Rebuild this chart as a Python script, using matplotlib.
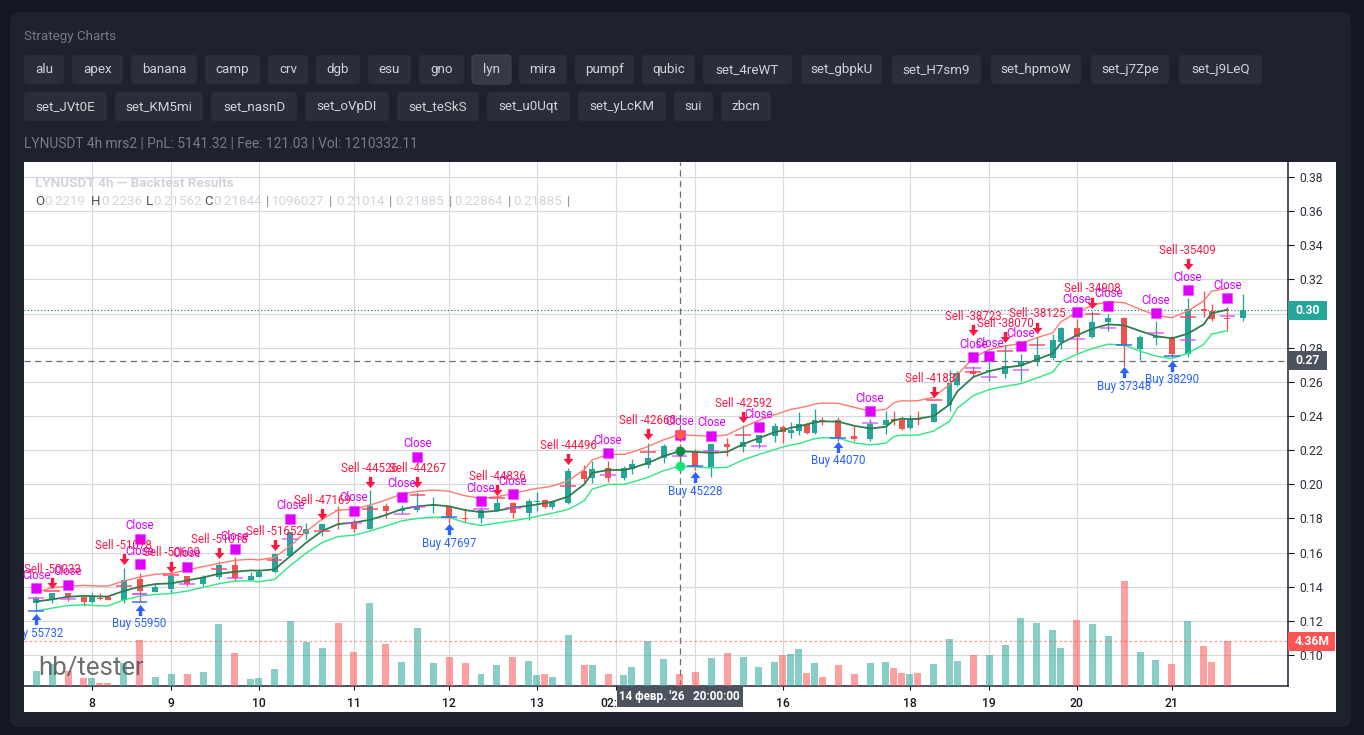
import matplotlib
matplotlib.use('Agg')
import matplotlib.pyplot as plt
from matplotlib.patches import FancyBboxPatch, Rectangle
from matplotlib.path import Path
from matplotlib.transforms import blended_transform_factory

plt.rcParams['font.family'] = ['Roboto', 'DejaVu Sans']

# candles: slot number on the time scale, then OHLC and volume (millions)
slots = [0, 2, 4, 6, 7, 8, 9, 11, 13, 15, 17, 19, 21, 23, 25, 27, 28, 30, 32, 34, 36, 38,
         40, 42, 44, 46, 48, 50, 52, 54, 56, 58, 60, 62, 63, 64, 65, 67, 69, 70, 72, 74, 75, 77, 79,
         81, 83, 85, 87, 89, 91, 93, 94, 95, 96, 97, 98, 99, 101, 103, 105, 107, 108, 109, 110, 111,
         113, 115, 116, 118, 120, 122, 124, 126, 128, 129, 131, 133, 135, 137, 139, 141, 143, 145, 147, 148, 150, 152]
opens = [.1306, .1320, .1361, .1341, .1308, .1335, .1339, .1320, .1443, .1371, .1386, .1461, .1416, .1459, .1525, .1441, .1457, .1486, .1578, .1710, .1733, .1849,
         .1773, .1737, .1873, .1841, .1849, .1873, .1874, .1802, .1802, .1841, .1890, .1831, .1896, .1908, .1867, .1890, .2078, .2035, .2094, .2037, .2092, .2116, .2153,
         .2219, .2190, .2102, .2237, .2220, .2243, .2286, .2335, .2302, .2310, .2353, .2300, .2374, .2376, .2284, .2267, .2349, .2380, .2378, .2329, .2384,
         .2365, .2467, .2582, .2663, .2661, .2649, .2692, .2716, .2741, .2835, .2914, .2865, .2949, .2972, .2790, .2859, .2863, .2765, .3025, .3017, .2972, .2972]
highs = [.1345, .1363, .1361, .1341, .1365, .1363, .1339, .1508, .1482, .1414, .1478, .1461, .1467, .1549, .1572, .1486, .1502, .1596, .1718, .1776, .1770, .1874,
         .1796, .1967, .1890, .1878, .1957, .1925, .1878, .1859, .1865, .1920, .1894, .1914, .1953, .1914, .1904, .2096, .2114, .2137, .2137, .2110, .2149, .2243, .2237,
         .2236, .2208, .2237, .2271, .2345, .2290, .2361, .2349, .2365, .2423, .2357, .2443, .2394, .2392, .2339, .2384, .2427, .2431, .2400, .2404, .2427,
         .2476, .2672, .2663, .2696, .2721, .2814, .2765, .2865, .2882, .2921, .2966, .3015, .2996, .2978, .2872, .2957, .2868, .3090, .3133, .3055, .3041, .3113]
lows = [.1251, .1302, .1316, .1286, .1306, .1322, .1320, .1302, .1310, .1369, .1365, .1404, .1404, .1445, .1433, .1441, .1457, .1482, .1578, .1678, .1698, .1741,
        .1722, .1737, .1804, .1825, .1839, .1835, .1776, .1780, .1773, .1841, .1800, .1792, .1845, .1859, .1855, .1886, .2016, .2010, .2012, .2025, .2063, .2098, .2125,
        .2156, .2086, .2045, .2167, .2192, .2214, .2247, .2243, .2271, .2290, .2294, .2294, .2345, .2255, .2251, .2251, .2294, .2349, .2320, .2325, .2349,
        .2363, .2431, .2578, .2633, .2608, .2620, .2608, .2696, .2731, .2790, .2770, .2857, .2898, .2696, .2731, .2814, .2747, .2745, .2980, .2955, .2898, .2955]
closes = [.1335, .1363, .1341, .1310, .1341, .1331, .1320, .1437, .1376, .1400, .1461, .1416, .1455, .1525, .1453, .1461, .1488, .1590, .1718, .1741, .1770, .1845,
          .1737, .1873, .1843, .1855, .1874, .1876, .1806, .1798, .1849, .1890, .1831, .1902, .1900, .1867, .1898, .2078, .2029, .2090, .2039, .2096, .2118, .2155, .2225,
          .2184, .2106, .2237, .2220, .2247, .2290, .2343, .2306, .2320, .2353, .2302, .2378, .2371, .2273, .2267, .2355, .2378, .2371, .2327, .2384, .2374,
          .2473, .2592, .2653, .2649, .2667, .2696, .2721, .2755, .2843, .2915, .2863, .2953, .2972, .2819, .2861, .2868, .2765, .3025, .3017, .2966, .2968, .3019]
volumes = [1.49, 2.13, 1.49, 0.84, 0.84, 0.32, 0.32, 2.26, 4.49, 0.90, 1.20, 1.20, 1.39, 6.04, 3.23, 0.71, 0.81, 1.68, 6.33, 4.30, 3.72, 6.14,
           3.33, 8.07, 4.10, 2.36, 5.65, 2.26, 2.84, 2.26, 1.19, 2.07, 2.84, 2.45, 1.10, 1.19, 0.90, 4.97, 2.07, 2.07, 1.19, 1.10, 1.87, 4.39, 2.62,
           1.16, 1.36, 2.71, 3.20, 2.81, 1.84, 2.33, 3.00, 3.10, 3.59, 1.26, 2.23, 0.87, 2.03, 1.16, 2.23, 2.33, 1.74, 1.26, 1.16, 1.26,
           2.13, 4.55, 2.42, 3.00, 3.04, 4.00, 6.62, 6.14, 5.46, 3.71, 6.43, 6.04, 4.88, 10.2, 3.33, 2.55, 2.16, 6.33, 3.91, 2.36, 4.36, 0]

# bands, one value per candle up to slot 150
upper = [.1369, .1394, .1404, .1408, .1406, .1404, .1404, .1433, .1457, .1473, .1478, .1498, .1518, .1537, .1555, .1561, .1557, .1572, .1639, .1725, .1796, .1849,
         .1855, .1878, .1908, .1943, .1959, .1967, .1959, .1933, .1918, .1927, .1945, .1967, .1976, .1982, .1990, .2021, .2086, .2143, .2174, .2176, .2188, .2221, .2261,
         .2292, .2286, .2280, .2290, .2335, .2374, .2408, .2423, .2439, .2447, .2457, .2470, .2476, .2474, .2451, .2429, .2439, .2478, .2490, .2488, .2490,
         .2510, .2584, .2643, .2741, .2790, .2810, .2825, .2859, .2888, .2951, .3006, .3049, .3070, .3064, .3025, .2990, .2976, .3015, .3074, .3131, .3149]
middle = [.1314, .1326, .1341, .1347, .1345, .1343, .1343, .1375, .1400, .1416, .1420, .1437, .1455, .1476, .1488, .1496, .1494, .1502, .1580, .1659, .1727, .1767,
          .1776, .1792, .1820, .1855, .1871, .1880, .1871, .1849, .1837, .1845, .1863, .1874, .1882, .1890, .1898, .1929, .2000, .2067, .2084, .2084, .2094, .2125, .2165,
          .2194, .2190, .2184, .2190, .2235, .2271, .2306, .2316, .2331, .2339, .2351, .2363, .2369, .2367, .2343, .2327, .2337, .2376, .2384, .2382, .2384,
          .2400, .2467, .2545, .2629, .2663, .2684, .2696, .2731, .2767, .2825, .2872, .2912, .2937, .2931, .2898, .2868, .2855, .2882, .2937, .3002, .3023]
lower = [.1259, .1275, .1290, .1294, .1292, .1288, .1288, .1322, .1345, .1355, .1361, .1375, .1396, .1418, .1433, .1435, .1429, .1443, .1525, .1598, .1659, .1694,
         .1702, .1726, .1755, .1786, .1800, .1808, .1806, .1776, .1759, .1773, .1786, .1802, .1812, .1822, .1831, .1853, .1904, .1972, .2000, .2000, .2012, .2041, .2080,
         .2106, .2102, .2096, .2100, .2143, .2175, .2204, .2218, .2231, .2237, .2253, .2267, .2273, .2271, .2243, .2231, .2241, .2280, .2288, .2288, .2288,
         .2312, .2369, .2447, .2520, .2555, .2574, .2590, .2623, .2657, .2718, .2761, .2796, .2821, .2816, .2780, .2751, .2737, .2767, .2819, .2880, .2900]

# trades
close_slots = [0, 4, 13, 13, 19, 25, 32, 40, 46, 48, 56, 60, 72, 81, 85, 91, 105, 118, 120, 124, 131, 135, 141, 145, 150]
close_marks = [.1390, .1411, .1679, .1532, .1515, .1620, .1796, .1843, .1925, .2159, .1901, .1942, .2182, .2288, .2282, .2334, .2428, .2744, .2750, .2809, .3008, .3043, .3002, .3137, .3090]
close_levels = [.1333, .1331, .1359, .1359, .1414, .1451, .1682, .1775, .1827, .1865, .1853, .1861, .2055, .2165, .2198, .2227, .2361, .2682, .2631, .2669, .2853, .2914, .2888, .2843, .2988]
sell_slots = [2, 11, 17, 23, 30, 36, 42, 48, 58, 67, 77, 89, 113, 118, 122, 126, 133, 145]
sell_marks = [.1421, .1560, .1517, .1597, .1645, .1825, .2014, .2011, .1967, .2147, .2292, .2393, .2541, .2902, .2863, .2918, .3065, .3291]
sell_levels = [.1373, .1406, .1469, .1506, .1555, .1727, .1855, .1939, .1918, .1990, .2190, .2290, .2494, .2659, .2780, .2819, .2996, .2978]
sell_sizes = [-50033, -51078, -50600, -51018, -51652, -47169, -44526, -44267, -44836, -44496, -42660, -42592, -41831, -38723, -38070, -38125, -34908, -35409]
buy_slots = [0, 13, 52, 83, 101, 137, 143]
buy_marks = [.1210, .1265, .1737, .2042, .2219, .2656, .2693]
buy_levels = [.1259, .1312, .1806, .2106, .2273, .2819, .2751]
buy_sizes = [55732, 55950, 47697, 45228, 44070, 37348, 38290]

tick_slots = [7, 17, 28, 40, 52, 63, 73, 83, 94, 110, 120, 131, 143]
tick_labels = ['8', '9', '10', '11', '12', '13', '02:00', '', '16', '18', '19', '20', '21']
price_ticks = [.10, .12, .14, .16, .18, .20, .22, .24, .26, .28, .30, .32, .34, .36, .38]

row1 = ['alu', 'apex', 'banana', 'camp', 'crv', 'dgb', 'esu', 'gno', 'lyn', 'mira', 'pumpf', 'qubic',
        'set_4reWT', 'set_gbpkU', 'set_H7sm9', 'set_hpmoW', 'set_j7Zpe', 'set_j9LeQ']
row1_edges = [(24, 64), (72, 123), (131, 197), (205, 260), (268, 308), (316, 360), (368, 411), (419, 464), (472, 511),
              (519, 567), (575, 634), (642, 695), (703, 792), (801, 882), (892, 981), (991, 1081), (1091, 1169), (1179, 1262)]
row2 = ['set_JVt0E', 'set_KM5mi', 'set_nasnD', 'set_oVpDI', 'set_teSkS', 'set_u0Uqt', 'set_yLcKM', 'sui', 'zbcn']
row2_edges = [(24, 107), (115, 203), (211, 297), (305, 389), (397, 479), (487, 570), (578, 666), (674, 713), (721, 771)]

UP = '#26a69a'
DOWN = '#ef5350'
W, H = 1364, 735


def rect(x0, y0, x1, y1):
    return [x0 / W, 1 - y1 / H, (x1 - x0) / W, (y1 - y0) / H]


fig = plt.figure(figsize=(W / 100, H / 100), dpi=100, facecolor='#131722')

# page furniture in pixel coordinates
bg = fig.add_axes([0, 0, 1, 1], zorder=0)
bg.set_xlim(0, W)
bg.set_ylim(H, 0)
bg.axis('off')
bg.add_patch(FancyBboxPatch((10, 12), 1341, 715, boxstyle='round,pad=0,rounding_size=9', fc='#1e222d', ec='none'))
bg.add_patch(Rectangle((24, 162), 1312, 550, fc='white', ec='none'))
bg.text(24, 36, 'Strategy Charts', color='#787b86', fontsize=9.6, va='center')
bg.text(24, 143, 'LYNUSDT 4h mrs2 | PnL: 5141.32 | Fee: 121.03 | Vol: 1210332.11', color='#787b86', fontsize=9.9, va='center')
for names, edges, y0, y1 in [(row1, row1_edges, 55, 84), (row2, row2_edges, 92, 121)]:
    for name, (x0, x1) in zip(names, edges):
        active = name == 'lyn'
        bg.add_patch(FancyBboxPatch((x0, y0), x1 - x0, y1 - y0, boxstyle='round,pad=0,rounding_size=4',
                                    fc='#363a45' if active else '#2a2e39', ec='#434651' if active else 'none', lw=0.7))
        bg.text((x0 + x1) / 2, (y0 + y1) / 2, name, color='#d1d4dc', fontsize=9.6, ha='center', va='center')

# price pane
ax = fig.add_axes(rect(24, 162, 1288.3, 686.3), zorder=2)
ax.patch.set_visible(False)
px_per_slot = 7.941
ax.set_xlim(-(36.3 - 24) / px_per_slot, (1288.3 - 36.3) / px_per_slot)
ax.set_ylim(0.0817, 0.3888)
ax.set_xticks(tick_slots)
ax.set_xticklabels(tick_labels)
ax.set_yticks(price_ticks)
ax.set_yticklabels([f'{p:.2f}' for p in price_ticks])
ax.yaxis.tick_right()
ax.grid(True, color='#d6dadd', lw=0.85)
ax.set_axisbelow(True)
ax.tick_params(axis='y', length=4, width=0.8, color='#131722', labelcolor='#2a2e39', labelsize=8.7, pad=4)
ax.tick_params(axis='x', length=3, width=0.8, color='#131722', labelcolor='#131722', labelsize=8.7, pad=4.5)
for t in ax.get_xticklabels():
    t.set_fontweight('medium')
for side in ['top', 'left']:
    ax.spines[side].set_visible(False)
for side in ['bottom', 'right']:
    ax.spines[side].set_color('#1e2238')
    ax.spines[side].set_linewidth(1.1)

# candles
colors = [UP if c >= o else DOWN for o, c in zip(opens, closes)]
ax.vlines(slots, lows, highs, colors=colors, lw=0.95, zorder=3)
ax.bar(slots, [max(abs(c - o), 0.0004) for o, c in zip(opens, closes)],
       bottom=[min(o, c) for o, c in zip(opens, closes)], width=0.75, color=colors, zorder=4)

# bands
band_slots = slots[:-1]
ax.plot(band_slots, upper, color='#ff7a70', lw=1.0, zorder=5)
ax.plot(band_slots, middle, color='#2e7d4f', lw=1.3, zorder=5)
ax.plot(band_slots, lower, color='#2ee882', lw=1.0, zorder=5)

# trade level dashes
ax.hlines(close_levels, [k - 1 for k in close_slots], [k + 1 for k in close_slots], colors='#e040fb', lw=1.2, alpha=0.75, zorder=6)
ax.hlines(sell_levels, [k - 1 for k in sell_slots], [k + 1 for k in sell_slots], colors='#ff3d60', lw=1.2, alpha=0.85, zorder=6)
ax.hlines(buy_levels, [k - 1 for k in buy_slots], [k + 1 for k in buy_slots], colors='#2962ff', lw=1.2, alpha=0.85, zorder=6)

# trade markers
arrow_down = Path([(-0.3, 1), (0.3, 1), (0.3, 0.1), (0.9, 0.1), (0, -1), (-0.9, 0.1), (-0.3, 0.1), (-0.3, 1)], closed=True)
arrow_up = Path([(-0.3, -1), (0.3, -1), (0.3, -0.1), (0.9, -0.1), (0, 1), (-0.9, -0.1), (-0.3, -0.1), (-0.3, -1)], closed=True)
ax.plot(close_slots, close_marks, ls='none', marker='s', ms=6.8, mfc='#e000ff', mec=(0.88, 0, 1, 0.25), mew=1, zorder=7)
ax.plot(sell_slots, sell_marks, ls='none', marker=arrow_down, ms=8, mfc='#ff1744', mec='none', zorder=7)
ax.plot(buy_slots, buy_marks, ls='none', marker=arrow_up, ms=8, mfc='#2962ff', mec='none', zorder=7)
for k, p in zip(close_slots, close_marks):
    ax.annotate('Close', (k, p), xytext=(0, 9.5), textcoords='offset points', ha='center', va='center',
                color='#d500f9', fontsize=8.3, zorder=8, annotation_clip=False)
for k, p, size in zip(sell_slots, sell_marks, sell_sizes):
    ax.annotate(f'Sell {size}', (k, p), xytext=(0, 10), textcoords='offset points', ha='center', va='center',
                color='#ff1744', fontsize=8.3, zorder=8)
for k, p, size in zip(buy_slots, buy_marks, buy_sizes):
    t = ax.annotate(f'Buy {size}', (k, p), xytext=(0, -10), textcoords='offset points', ha='center', va='center',
                    color='#2962ff', fontsize=8.3, zorder=8)
    t.set_clip_on(True)
    t.set_clip_box(ax.bbox)

# volume pane shares the same box
vol_ax = fig.add_axes(rect(24, 162, 1288.3, 686.3), zorder=3, sharex=ax)
vol_ax.patch.set_visible(False)
vol_ax.set_ylim(0, 50.8)
vol_ax.axis('off')
vol_colors = ['#26a69a' if c == UP else '#ff5252' for c in colors]
vol_ax.bar(slots, volumes, width=0.88, color=vol_colors, alpha=0.55)
vol_ax.axhline(volumes[-2], color='#ff5252', lw=0.9, ls=(0, (2, 2)), alpha=0.6)
vol_ax.text(14 / 1264.3, 18 / 524.3, 'hb/tester', transform=vol_ax.transAxes, color='#555555', alpha=0.85,
            fontsize=18.6, va='center')

# crosshair
hover = slots.index(81)
hover_price = 0.2725
ax.axvline(81, color='#6a6d78', lw=0.9, ls=(0, (5, 3.5)), zorder=6)
ax.axhline(hover_price, color='#6a6d78', lw=0.9, ls=(0, (5, 3.5)), zorder=6)
ax.axhline(closes[-1], color='#1f6f68', lw=0.8, ls=(0, (1, 2)), zorder=2)
for series, color in [(upper, '#ff5c4d'), (middle, '#0b8a45'), (lower, '#17e276')]:
    ax.plot(81, series[hover], ls='none', marker='o', ms=6.6, mfc=color, mec=color + '40', mew=1.5, zorder=9)


def price_tag(axis, value, label, color, width_px):
    # colored label stuck on the price scale
    tr = blended_transform_factory(axis.transAxes, axis.transData)
    span = axis.get_ylim()[1] - axis.get_ylim()[0]
    h = 9.4 * span / 524.3
    axis.add_patch(Rectangle((1, value - h), width_px / 1264.3, 2 * h, transform=tr, fc=color, ec='none', clip_on=False, zorder=20))
    axis.text(1 + width_px / 2 / 1264.3, value, label, transform=tr, color='white', fontsize=8.7, fontweight='bold',
              ha='center', va='center', clip_on=False, zorder=21)


price_tag(ax, closes[-1], f'{closes[-1]:.2f}', UP, 38.5)
price_tag(ax, hover_price, f'{hover_price:.2f}', '#4c525e', 38.5)
price_tag(vol_ax, volumes[-2], f'{volumes[-2]:.2f}M', '#ff5252', 47)

tr = blended_transform_factory(ax.transData, ax.transAxes)
ax.add_patch(Rectangle((81 - 63 / px_per_slot, -21 / 524.3), 126 / px_per_slot, 21 / 524.3, transform=tr, fc='#4c525e', ec='none',
                       clip_on=False, zorder=20))
ax.text(81, -10.5 / 524.3, "14 февр. '26   20:00:00", transform=tr, color='white', fontsize=8.4, fontweight='bold',
        ha='center', va='center', clip_on=False, zorder=21)

# header text over the chart
top = fig.add_axes([0, 0, 1, 1], zorder=4)
top.set_xlim(0, W)
top.set_ylim(H, 0)
top.axis('off')
top.text(35, 183.5, 'LYNUSDT 4h — Backtest Results', color='#d1d4dc', fontsize=9.7, fontweight='bold', va='center')
legend_marks = [(35, 'O'), (91, 'H'), (146, 'L'), (204, 'C')]
legend_vals = [(44, '0.2219'), (101, '0.2236'), (153, '0.21562'), (213, '0.21844'), (272, '1096027'),
               (336, '0.21014'), (395, '0.21885'), (454, '0.22864'), (513, '0.21885')]
legend_pipes = [266, 329, 389, 449, 508, 567]
for x, s in legend_marks:
    top.text(x, 201.5, s, color='#50535e', fontsize=9.6, va='center')
for x, s in legend_vals:
    top.text(x, 201.5, s, color='#d1d4dc', fontsize=9.6, va='center')
for x in legend_pipes:
    top.text(x, 201.5, '|', color='#8a8d96', fontsize=9.6, va='center')

fig.savefig('out.png', dpi=100, facecolor=fig.get_facecolor())
